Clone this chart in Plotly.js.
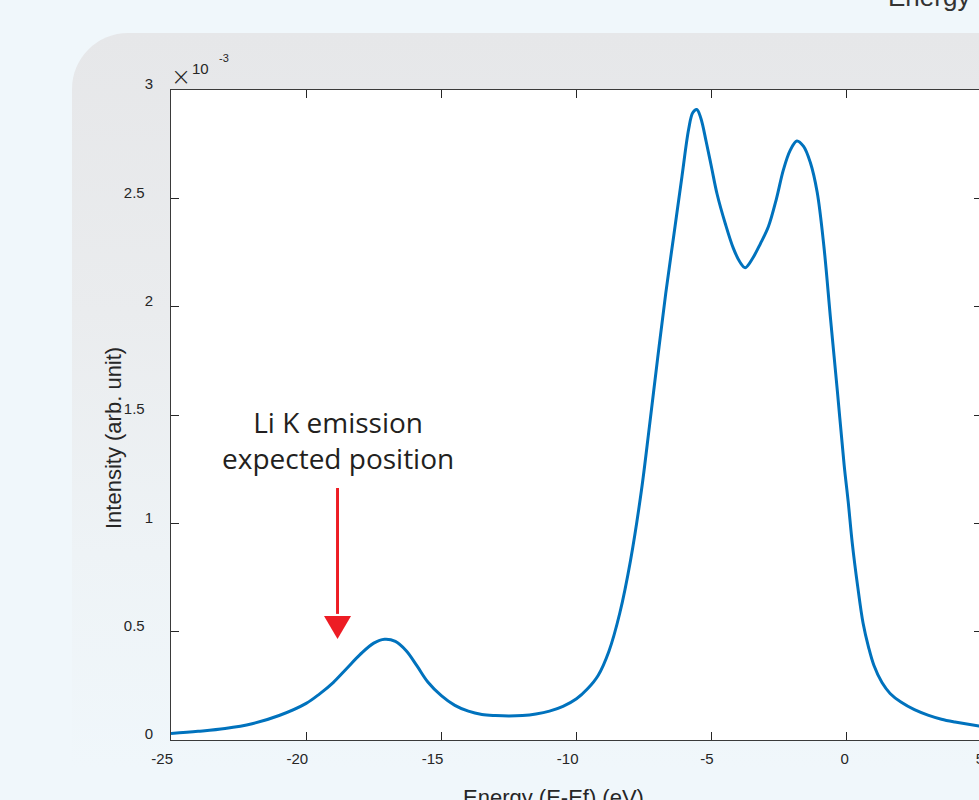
<!DOCTYPE html>
<html>
<head>
<meta charset="utf-8">
<script src="https://cdn.plot.ly/plotly-3.0.1.min.js"></script>
<style>
  html, body { margin:0; padding:0; overflow:hidden; width:979px; height:800px; background:#f0f7fb; }
  #card { position:absolute; left:72px; top:33px; width:1000px; height:800px;
          border-top-left-radius:56px;
          background:linear-gradient(180deg, #e6e7e9 0%, #eaecee 35%, #eef3f6 65%, #f0f7fb 92%); }
  #chart { position:absolute; left:0; top:0; width:1000px; height:830px; }
</style>
</head>
<body>
<div id="card"></div>
<div id="chart"></div>
<script>
// ---- data (intensity in units of 1e-3) ----
const energy = [-25, -24, -23, -22, -21, -20, -19.5, -19, -18.5, -18, -17.5, -17.1, -16.7, -16.3, -15.9, -15.5,
  -15, -14.5, -14, -13.5, -13, -12.5, -12, -11.5, -11, -10.5, -10, -9.6, -9.2, -8.8, -8.4, -8, -7.6, -7.3, -7.0,
  -6.7, -6.4, -6.1, -5.85, -5.7, -5.55, -5.4, -5.2, -5.0, -4.8, -4.5, -4.2, -3.95, -3.76, -3.5, -3.2, -2.9, -2.6, -2.35,
  -2.1, -1.85, -1.6, -1.35, -1.1, -0.85, -0.6, -0.35, -0.1, 0.05, 0.2, 0.4, 0.6, 0.8, 1.0, 1.3, 1.6, 2.0,
  2.5, 3.0, 3.5, 4.0, 5.0];
const intensity = [0.030, 0.040, 0.053, 0.075, 0.113, 0.169, 0.213, 0.265, 0.330, 0.395, 0.447, 0.465, 0.455, 0.412, 0.342, 0.268,
  0.205, 0.160, 0.133, 0.118, 0.113, 0.111, 0.113, 0.120, 0.133, 0.155, 0.190, 0.235, 0.298, 0.410, 0.585, 0.830, 1.150, 1.450, 1.760,
  2.060, 2.330, 2.600, 2.820, 2.895, 2.910, 2.870, 2.760, 2.640, 2.520, 2.385, 2.270, 2.205, 2.180, 2.220, 2.290, 2.370, 2.500, 2.630,
  2.720, 2.765, 2.740, 2.665, 2.530, 2.280, 1.940, 1.610, 1.270, 1.100, 0.910, 0.710, 0.540, 0.430, 0.345, 0.265, 0.215, 0.175,
  0.140, 0.115, 0.096, 0.083, 0.062];
const xTickVals = [-25, -20, -15, -10, -5, 0, 5];
const xTickLabels = ['-25', '-20', '-15', '-10', '-5', '0', '5'];
const yTickVals = [0, 0.5, 1, 1.5, 2, 2.5, 3];
const yTickLabels = ['0', '0.5', '1', '1.5', '2', '2.5', '3'];
const yExponent = '-3';
const xTitle = 'Energy (E-Ef) (eV)';
const yTitle = 'Intensity (arb. unit)';
const noteText = 'Li K emission<br>expected position';
const topText = 'Energy';

// ---- layout helpers ----
const W = 1000, H = 830, L = 171, R = 18, T = 90, B = 90;
const pw = W - L - R, ph = H - T - B;
const px = v => (v - L) / pw;          // pixel x -> paper
const py = v => (T + ph - v) / ph;     // pixel y -> paper

// decimal labels sit a little further left in the original export
const yTickText = yTickLabels.map(s => s.indexOf('.') >= 0 ? s + '\u00a0\u00a0' : s);

const tickFont = { family: 'Liberation Sans, Arial, sans-serif', size: 15, color: '#262626' };
const axisCommon = {
  showline: true, linecolor: '#3a3a3a', linewidth: 1, mirror: 'allticks',
  ticks: 'inside', ticklen: 8, tickwidth: 1, tickcolor: '#262626',
  showgrid: false, zeroline: false, tickfont: tickFont, fixedrange: true
};

const arrowX = -18.84, arrowTop = 1.163, headTop = 0.572, headTip = 0.466, headHalf = 0.5;

const trace = {
  x: energy, y: intensity, type: 'scatter', mode: 'lines',
  line: { color: '#0072bd', width: 3, shape: 'spline', smoothing: 1 },
  hoverinfo: 'skip'
};

const layout = {
  width: W, height: H,
  margin: { l: L, r: R, t: T, b: B, pad: 0 },
  paper_bgcolor: 'rgba(0,0,0,0)', plot_bgcolor: '#ffffff',
  showlegend: false,
  xaxis: Object.assign({}, axisCommon, {
    range: [-25, 5], tickvals: xTickVals, ticktext: xTickLabels,
    ticklabelposition: 'outside left', ticklabelstandoff: 5, ticklabelshift: 3
  }),
  yaxis: Object.assign({}, axisCommon, {
    range: [0, 3], tickvals: yTickVals, ticktext: yTickText,
    ticklabelstandoff: 14, ticklabelshift: -6
  }),
  shapes: [
    { type: 'line', xref: 'x', yref: 'y', x0: arrowX, x1: arrowX, y0: arrowTop, y1: headTop + 0.01,
      line: { color: '#ed1c24', width: 3 } },
    { type: 'path', xref: 'x', yref: 'y',
      path: `M ${arrowX - headHalf} ${headTop} L ${arrowX + headHalf} ${headTop} L ${arrowX} ${headTip} Z`,
      fillcolor: '#ed1c24', line: { width: 0 } }
  ],
  annotations: [
    { text: noteText, xref: 'x', yref: 'y', x: arrowX, y: 1.385, xanchor: 'center', yanchor: 'middle',
      showarrow: false, align: 'center',
      font: { family: 'Open Sans, Noto Sans, sans-serif', size: 28, color: '#231f20' } },
    { text: xTitle, xref: 'paper', yref: 'paper', x: px(553), y: py(797), xanchor: 'center', yanchor: 'middle',
      showarrow: false, font: { family: 'Liberation Sans, Arial, sans-serif', size: 22, color: '#262626' } },
    { text: yTitle, xref: 'paper', yref: 'paper', x: px(113), y: py(438), xanchor: 'center', yanchor: 'middle',
      textangle: -90, showarrow: false,
      font: { family: 'Liberation Sans, Arial, sans-serif', size: 22, color: '#262626' } },
    { text: '×', xref: 'paper', yref: 'paper', x: px(180.5), y: py(77), xanchor: 'center', yanchor: 'middle',
      showarrow: false, font: { family: 'DejaVu Sans, Liberation Sans, sans-serif', size: 24, color: '#262626', weight: 300 } },
    { text: '10', xref: 'paper', yref: 'paper', x: px(200), y: py(69), xanchor: 'center', yanchor: 'middle',
      showarrow: false, font: { family: 'Liberation Sans, Arial, sans-serif', size: 15, color: '#262626' } },
    { text: yExponent, xref: 'paper', yref: 'paper', x: px(224), y: py(58), xanchor: 'center', yanchor: 'middle',
      showarrow: false, font: { family: 'Liberation Sans, Arial, sans-serif', size: 11, color: '#262626' } },
    { text: topText, xref: 'paper', yref: 'paper', x: px(972), y: py(-3), xanchor: 'right', yanchor: 'middle',
      showarrow: false, font: { family: 'Liberation Sans, Arial, sans-serif', size: 26, color: '#333333' } }
  ]
};

Plotly.newPlot('chart', [trace], layout, { displayModeBar: false, staticPlot: true });
</script>
</body>
</html>
